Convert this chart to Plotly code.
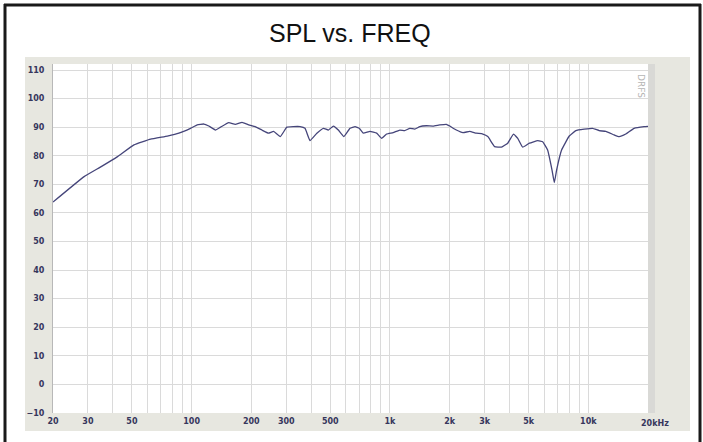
import plotly.graph_objects as go
import math

# ---- data ----
freq_hz = [20, 28.7, 35, 42.3, 51.2, 62.1, 75.4, 86.2, 98.7, 106.7, 115.2, 122,
           131.9, 139.7, 153.8, 166, 179.6, 193.9, 209, 226, 244, 259, 280, 302,
           326, 352, 373, 395, 428, 462, 489, 519, 549, 586, 629, 667, 700, 733,
           793, 857, 908, 962, 1038, 1121, 1188, 1259, 1334, 1414, 1527, 1649,
           1783, 1925, 2000, 2161, 2334, 2521, 2724, 2940, 3115, 3370, 3650,
           3926, 4194, 4409, 4670, 5048, 5560, 5887, 6237, 6563, 6743, 6922,
           7334, 8017, 8655, 9540, 10500, 11350, 12250, 13500, 14300, 15450,
           17020, 19100, 20000]
spl_db = [63.8, 72.7, 76.2, 79.7, 83.8, 85.8, 86.9, 87.9, 89.6, 90.8, 91.1, 90.4,
          89.0, 90.0, 91.6, 91.0, 91.7, 90.8, 90.2, 89.0, 87.9, 88.5, 86.7, 90.0,
          90.2, 90.2, 89.6, 85.3, 87.9, 89.6, 89.0, 90.4, 89.0, 86.7, 89.6, 90.2,
          89.6, 87.9, 88.5, 87.9, 86.1, 87.6, 88.1, 89.0, 88.8, 89.6, 89.3, 90.2,
          90.5, 90.4, 90.8, 91.0, 90.4, 89.0, 88.1, 88.5, 87.9, 87.6, 86.7, 83.2,
          83.0, 84.4, 87.6, 86.1, 83.0, 84.4, 85.3, 84.9, 82.0, 75.0, 70.6, 75.0,
          82.0, 86.9, 88.8, 89.3, 89.6, 88.8, 88.5, 87.3, 86.7, 87.6, 89.6, 90.2,
          90.3]

x_tick_vals = [20, 30, 50, 100, 200, 300, 500, 1000, 2000, 3000, 5000, 10000]
x_tick_text = ["20", "30", "50", "100", "200", "300", "500", "1k", "2k", "3k", "5k", "10k"]
x_grid_vals = [20, 30, 40, 50, 60, 70, 80, 90, 100, 200, 300, 400, 500, 600, 700,
               800, 900, 1000, 2000, 3000, 4000, 5000, 6000, 7000, 8000, 9000,
               10000, 20000]
y_tick_vals = [-10, 0, 10, 20, 30, 40, 50, 60, 70, 80, 90, 100, 110]

# ---- layout geometry (pixels) ----
WIDTH, HEIGHT = 703, 442
L, R, T, B = 53, 648, 64, 413
PW, PH = R - L, B - T


def pxx(x):
    return (x - L) / PW


def pxy(y):
    return (B - y) / PH


fig = go.Figure()
fig.add_trace(go.Scatter(
    x=freq_hz, y=spl_db, mode="lines",
    line=dict(color="#45457a", width=1.3, shape="spline", smoothing=0.3),
    hoverinfo="x+y", showlegend=False,
))

shapes = []
# gray panel
shapes.append(dict(type="rect", xref="paper", yref="paper", layer="below",
                   x0=pxx(25), x1=pxx(690), y0=pxy(431), y1=pxy(57),
                   fillcolor="#e7e7e0", line=dict(width=0)))
# darker strip at right of plot
shapes.append(dict(type="rect", xref="paper", yref="paper", layer="below",
                   x0=pxx(647), x1=pxx(655), y0=pxy(413), y1=pxy(64),
                   fillcolor="#d9d9d6", line=dict(width=0)))
# white plot area
shapes.append(dict(type="rect", xref="paper", yref="paper", layer="below",
                   x0=0, x1=1, y0=0, y1=1,
                   fillcolor="#ffffff", line=dict(width=0)))
# black outer frame (left, top, right)
frame = dict(color="#1a1a1a", width=3)
shapes.append(dict(type="line", xref="paper", yref="paper",
                   x0=pxx(5), x1=pxx(5), y0=pxy(4), y1=pxy(445), line=frame))
shapes.append(dict(type="line", xref="paper", yref="paper",
                   x0=pxx(4), x1=pxx(701), y0=pxy(5), y1=pxy(5), line=frame))
shapes.append(dict(type="line", xref="paper", yref="paper",
                   x0=pxx(700), x1=pxx(700), y0=pxy(4), y1=pxy(445), line=frame))

tick_font = dict(family="DejaVu Sans", size=8, color="#36365c", weight="bold")

fig.update_layout(
    width=WIDTH, height=HEIGHT,
    margin=dict(l=L, r=WIDTH - R, t=T, b=HEIGHT - B, pad=0),
    paper_bgcolor="#ffffff", plot_bgcolor="#ffffff",
    shapes=shapes,
    xaxis=dict(
        type="log", range=[math.log10(20), math.log10(20000)],
        tickvals=x_tick_vals, ticktext=x_tick_text, tickfont=tick_font,
        showgrid=False, zeroline=False, showline=False, ticks="",
        minor=dict(tickvals=x_grid_vals, showgrid=True, gridcolor="#dadada",
                   gridwidth=1, ticks=""),
        ticklabelstandoff=2,
    ),
    yaxis=dict(
        range=[-10, 112.1], tickvals=y_tick_vals, tickfont=tick_font,
        showgrid=True, gridcolor="#dadada", gridwidth=1, zeroline=False,
        showline=True, linecolor="#b8b8b8", linewidth=1, ticks="",
        ticklabelstandoff=6,
    ),
    annotations=[
        dict(text="SPL vs. FREQ", xref="paper", yref="paper",
             x=pxx(350), y=pxy(33), xanchor="center", yanchor="middle",
             showarrow=False,
             font=dict(family="Liberation Sans", size=25, color="#111111")),
        dict(text="20kHz", xref="paper", yref="paper",
             x=pxx(639), y=pxy(423), xanchor="left", yanchor="middle",
             showarrow=False, font=tick_font),
        dict(text="DRFS", xref="paper", yref="paper",
             x=pxx(641), y=pxy(86), xanchor="center", yanchor="middle",
             textangle=90, showarrow=False,
             font=dict(family="DejaVu Sans", size=9, color="#b5b5b5")),
    ],
)

fig.write_html("out.html", config={"displayModeBar": False},
               post_script="document.body.style.margin='0';document.body.style.overflow='hidden';")
